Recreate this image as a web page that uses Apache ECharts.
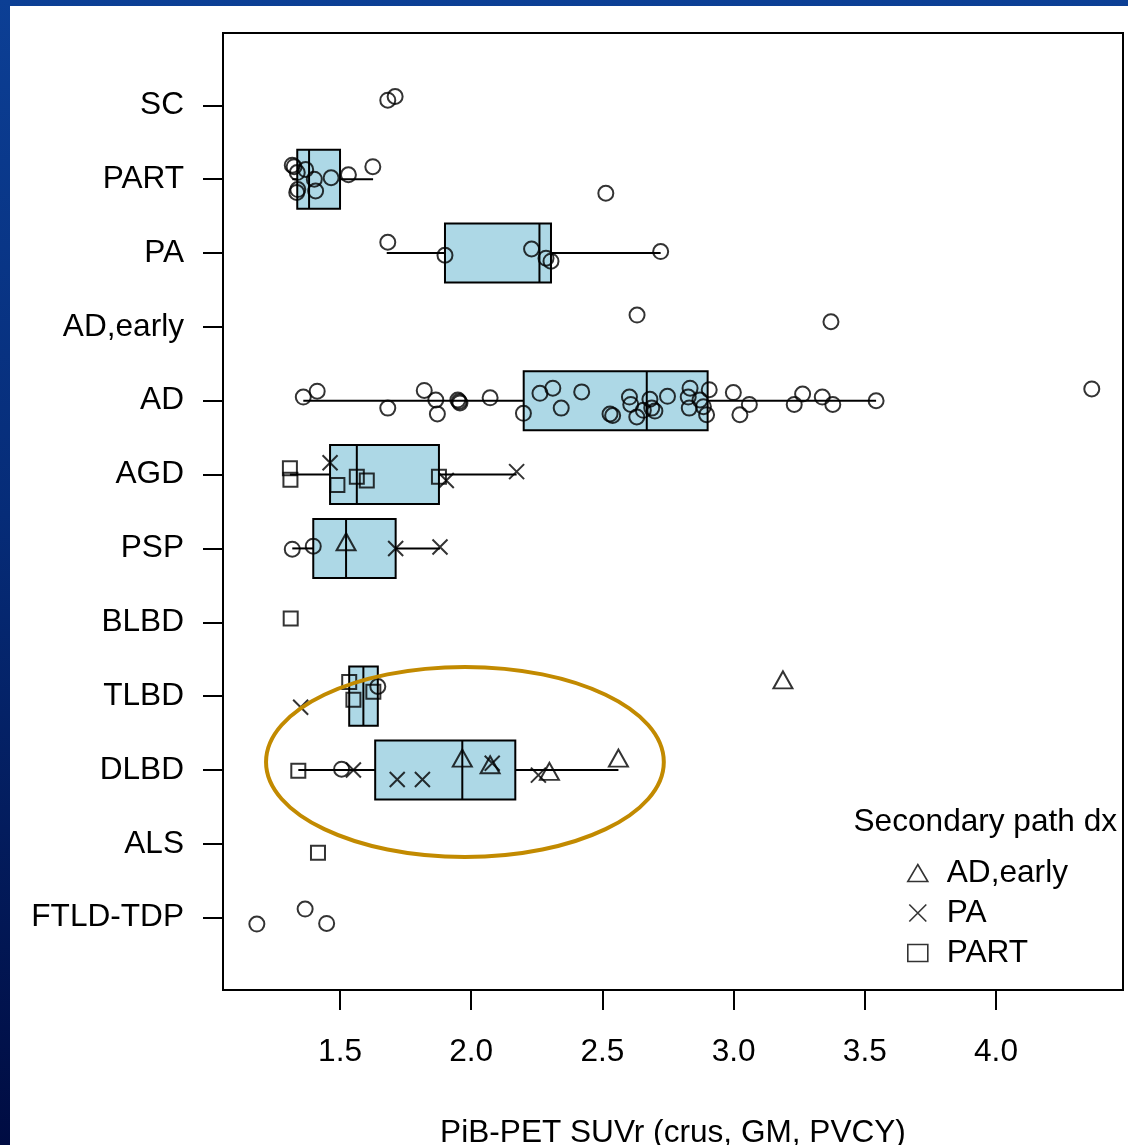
<!DOCTYPE html>
<html>
<head>
<meta charset="utf-8">
<script src="https://cdn.jsdelivr.net/npm/echarts@6/dist/echarts.min.js"></script>
<style>
  html, body { margin: 0; padding: 0; width: 1128px; height: 1145px; overflow: hidden; }
  body { background: linear-gradient(to bottom, #0c3f95 0%, #062c78 45%, #000c42 100%); position: relative; }
  #panel { position: absolute; left: 10px; top: 6px; right: 0; bottom: 0; background: #ffffff; }
  #chart { position: absolute; left: 0; top: 0; width: 1128px; height: 1145px; }
</style>
</head>
<body>
<div id="panel"></div>
<div id="chart"></div>
<script>
// Diagnostic groups, bottom (1) to top (12)
const categories = ['FTLD-TDP', 'ALS', 'DLBD', 'TLBD', 'BLBD', 'PSP', 'AGD', 'AD', 'AD,early', 'PA', 'PART', 'SC'];
const xTicks = [1.5, 2.0, 2.5, 3.0, 3.5, 4.0];

// Box statistics (whisker low, Q1, median, Q3, whisker high)
const boxGroups = ['PART', 'PA', 'AD', 'AGD', 'PSP', 'TLBD', 'DLBD'];
const boxLow    = [1.318, 1.678, 1.360, 1.309, 1.318, 1.535, 1.341];
const boxQ1     = [1.337, 1.900, 2.200, 1.462, 1.398, 1.535, 1.634];
const boxMedian = [1.382, 2.260, 2.669, 1.564, 1.523, 1.589, 1.966];
const boxQ3     = [1.500, 2.304, 2.901, 1.877, 1.712, 1.644, 2.168];
const boxHigh   = [1.626, 2.722, 3.543, 2.173, 1.881, 1.644, 2.561];

// Individual cases: [group, SUVr, vertical jitter]
const pointsNoSecondary = [
  ['SC', 1.682, 0.07], ['SC', 1.710, 0.12],
  ['PART', 1.318, 0.19], ['PART', 1.325, 0.17], ['PART', 1.337, 0.09], ['PART', 1.339, -0.14],
  ['PART', 1.335, -0.18], ['PART', 1.369, 0.13], ['PART', 1.402, 0.00], ['PART', 1.407, -0.16],
  ['PART', 1.466, 0.02], ['PART', 1.532, 0.06], ['PART', 1.625, 0.17], ['PART', 2.513, -0.19],
  ['PA', 1.682, 0.146], ['PA', 1.900, -0.03], ['PA', 2.230, 0.055], ['PA', 2.285, -0.07],
  ['PA', 2.304, -0.11], ['PA', 2.722, 0.02],
  ['AD,early', 2.632, 0.16], ['AD,early', 3.371, 0.07],
  ['AD', 1.360, 0.05], ['AD', 1.413, 0.13], ['AD', 1.682, -0.10], ['AD', 1.821, 0.14],
  ['AD', 1.865, 0.01], ['AD', 1.871, -0.18], ['AD', 1.949, 0.01], ['AD', 1.954, -0.01],
  ['AD', 1.957, -0.03], ['AD', 2.072, 0.04], ['AD', 2.199, -0.17], ['AD', 2.262, 0.10],
  ['AD', 2.311, 0.17], ['AD', 2.343, -0.10], ['AD', 2.421, 0.12], ['AD', 2.529, -0.18],
  ['AD', 2.539, -0.20], ['AD', 2.603, 0.05], ['AD', 2.608, -0.05], ['AD', 2.631, -0.22],
  ['AD', 2.656, -0.13], ['AD', 2.681, 0.02], ['AD', 2.688, -0.10], ['AD', 2.700, -0.14],
  ['AD', 2.748, 0.06], ['AD', 2.834, 0.17], ['AD', 2.827, 0.05], ['AD', 2.831, -0.10],
  ['AD', 2.872, 0.01], ['AD', 2.885, -0.08], ['AD', 2.897, -0.19], ['AD', 2.907, 0.15],
  ['AD', 2.999, 0.11], ['AD', 3.024, -0.19], ['AD', 3.060, -0.05], ['AD', 3.231, -0.05],
  ['AD', 3.263, 0.09], ['AD', 3.338, 0.05], ['AD', 3.378, -0.05], ['AD', 3.543, 0.00],
  ['AD', 4.365, 0.16],
  ['PSP', 1.318, -0.01], ['PSP', 1.398, 0.03],
  ['TLBD', 1.644, 0.13],
  ['DLBD', 1.506, 0.01],
  ['FTLD-TDP', 1.183, -0.087], ['FTLD-TDP', 1.367, 0.116], ['FTLD-TDP', 1.449, -0.078]
];
const pointsADearly = [
  ['PSP', 1.523, 0.09],
  ['TLBD', 3.188, 0.22],
  ['DLBD', 1.966, 0.16], ['DLBD', 2.072, 0.07], ['DLBD', 2.298, -0.02], ['DLBD', 2.561, 0.16]
];
const pointsPA = [
  ['AGD', 1.462, 0.16], ['AGD', 1.905, -0.08], ['AGD', 2.173, 0.04],
  ['PSP', 1.712, 0.00], ['PSP', 1.881, 0.02],
  ['TLBD', 1.350, -0.15],
  ['DLBD', 1.551, 0.00], ['DLBD', 1.718, -0.13], ['DLBD', 1.814, -0.13],
  ['DLBD', 2.080, 0.09], ['DLBD', 2.256, -0.07]
];
const pointsPART = [
  ['AGD', 1.309, 0.085], ['AGD', 1.311, -0.07], ['AGD', 1.490, -0.14],
  ['AGD', 1.564, -0.03], ['AGD', 1.602, -0.08], ['AGD', 1.877, -0.03],
  ['BLBD', 1.312, 0.05],
  ['TLBD', 1.535, 0.19], ['TLBD', 1.551, -0.05], ['TLBD', 1.627, 0.06],
  ['DLBD', 1.341, -0.01],
  ['ALS', 1.416, -0.12]
];

// Highlighted region around the Lewy body groups (data units)
const highlight = { cx: 1.976, cy: 3.108, rx: 0.758, ry: 1.287 };

const FONT = '"Liberation Sans", Arial, Helvetica, sans-serif';
const FS = 31.6;
const crossPath = 'path://M0,0L10,10M10,0L0,10';
const pos = (g) => categories.indexOf(g) + 1;
const toXY = (list) => list.map(p => [p[1], pos(p[0]) + p[2]]);

const boxData = boxGroups.map((g, i) => [pos(g), boxLow[i], boxQ1[i], boxMedian[i], boxQ3[i], boxHigh[i]]);

const openStyle = { color: 'transparent', borderColor: '#000', borderWidth: 2 };

const chart = echarts.init(document.getElementById('chart'), null, { renderer: 'canvas' });

const option = {
  animation: false,
  backgroundColor: 'transparent',
  textStyle: { fontFamily: FONT },
  title: {
    text: 'Secondary path dx',
    right: 11, top: 805, padding: 0,
    textStyle: { fontFamily: FONT, fontSize: FS, fontWeight: 'normal', color: '#000', lineHeight: 34 }
  },
  legend: {
    orient: 'vertical',
    left: 907, top: 856, padding: 0,
    itemWidth: 20, itemHeight: 17, itemGap: 6,
    selectedMode: false,
    itemStyle: { color: 'transparent', borderColor: '#000', borderWidth: 1.6 },
    textStyle: { fontFamily: FONT, fontSize: FS, color: '#000', lineHeight: 34, padding: [0, 0, 0, 14] },
    data: [
      { name: 'AD,early', icon: 'triangle' },
      { name: 'PA', icon: crossPath },
      { name: 'PART', icon: 'rect' }
    ]
  },
  grid: {
    left: 223, right: 5, top: 33, bottom: 155,
    outerBoundsMode: 'none',
    containLabel: false,
    show: true, borderColor: '#000', borderWidth: 2, backgroundColor: 'transparent'
  },
  xAxis: {
    type: 'value',
    min: 1.054, max: 4.484,
    name: 'PiB-PET SUVr (crus, GM, PVCY)',
    nameLocation: 'middle', nameGap: 127,
    nameTextStyle: { fontFamily: FONT, fontSize: FS, color: '#000' },
    axisLine: { show: true, lineStyle: { color: '#000', width: 2 } },
    axisTick: { show: true, length: 20, lineStyle: { color: '#000', width: 2 }, customValues: xTicks },
    axisLabel: {
      fontFamily: FONT, fontSize: FS, color: '#000', margin: 46,
      customValues: xTicks, formatter: (v) => v.toFixed(1)
    },
    splitLine: { show: false }
  },
  yAxis: {
    type: 'value',
    min: 0.02, max: 12.98,
    axisLine: { show: true, lineStyle: { color: '#000', width: 2 } },
    axisTick: { show: true, length: 20, lineStyle: { color: '#000', width: 2 }, customValues: categories.map((c, i) => i + 1) },
    axisLabel: {
      fontFamily: FONT, fontSize: FS, color: '#000', margin: 39,
      customValues: categories.map((c, i) => i + 1),
      formatter: (v) => categories[Math.round(v) - 1]
    },
    splitLine: { show: false }
  },
  series: [
    {
      name: 'box',
      type: 'custom',
      data: boxData,
      encode: { x: [1, 2, 3, 4, 5], y: 0 },
      z: 1,
      renderItem: function (params, api) {
        const k = api.value(0);
        const lo = api.value(1), q1 = api.value(2), med = api.value(3), q3 = api.value(4), hi = api.value(5);
        const half = 0.4;
        const pLo = api.coord([lo, k]);
        const pHi = api.coord([hi, k]);
        const tl = api.coord([q1, k + half]);
        const br = api.coord([q3, k - half]);
        const mT = api.coord([med, k + half]);
        const mB = api.coord([med, k - half]);
        const line = { stroke: '#000', lineWidth: 2 };
        return {
          type: 'group',
          children: [
            { type: 'line', shape: { x1: pLo[0], y1: pLo[1], x2: tl[0], y2: pLo[1] }, style: line },
            { type: 'line', shape: { x1: br[0], y1: pHi[1], x2: pHi[0], y2: pHi[1] }, style: line },
            { type: 'rect', shape: { x: tl[0], y: tl[1], width: br[0] - tl[0], height: br[1] - tl[1] },
              style: { fill: '#add8e6', stroke: '#000', lineWidth: 2 } },
            { type: 'line', shape: { x1: mT[0], y1: mT[1], x2: mB[0], y2: mB[1] }, style: line }
          ]
        };
      }
    },
    {
      name: 'none',
      type: 'scatter',
      data: toXY(pointsNoSecondary),
      symbol: 'circle', symbolSize: 15,
      itemStyle: openStyle,
      emphasis: { disabled: true },
      z: 3
    },
    {
      name: 'AD,early',
      type: 'scatter',
      data: toXY(pointsADearly),
      symbol: 'triangle', symbolSize: [19, 17],
      itemStyle: openStyle,
      emphasis: { disabled: true },
      z: 3
    },
    {
      name: 'PA',
      type: 'scatter',
      data: toXY(pointsPA),
      symbol: crossPath, symbolSize: 15,
      itemStyle: { color: 'transparent', borderColor: '#000', borderWidth: 2 },
      emphasis: { disabled: true },
      z: 3
    },
    {
      name: 'PART',
      type: 'scatter',
      data: toXY(pointsPART),
      symbol: 'rect', symbolSize: 14,
      itemStyle: openStyle,
      emphasis: { disabled: true },
      z: 3
    }
  ]
};

chart.setOption(option);

// Outline the highlighted region, placed through the grid's coordinate system
const c = chart.convertToPixel({ gridIndex: 0 }, [highlight.cx, highlight.cy]);
const e = chart.convertToPixel({ gridIndex: 0 }, [highlight.cx + highlight.rx, highlight.cy + highlight.ry]);
chart.setOption({
  graphic: [{
    type: 'ellipse',
    shape: { cx: c[0], cy: c[1], rx: Math.abs(e[0] - c[0]), ry: Math.abs(c[1] - e[1]) },
    style: { fill: 'none', stroke: '#c28a00', lineWidth: 4 },
    z: 100
  }]
});
</script>
</body>
</html>
